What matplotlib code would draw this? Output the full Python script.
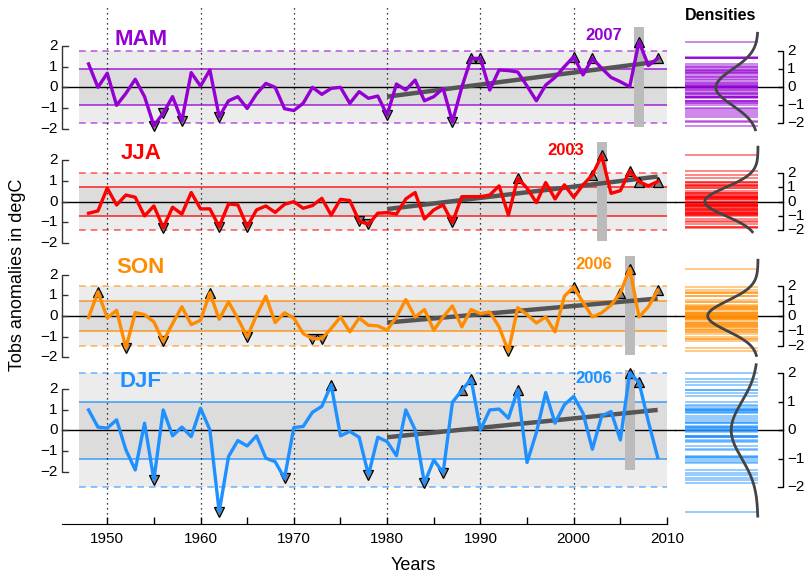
import numpy as np
import matplotlib
matplotlib.use("Agg")
import matplotlib.pyplot as plt

plt.rcParams['font.family'] = ['Liberation Sans', 'DejaVu Sans']

years = np.arange(1948, 2010)

mam = [1.13, 0.0, 0.68, -0.87, -0.29, 0.39, -0.45, -1.85, -1.25, -0.45, -1.61, 0.71,
       0.06, 0.84, -1.42, -0.65, -0.45, -1.02, -0.32, 0.19, 0.0, -1.03,
       -1.12, -0.77, 0.0, -0.34, -0.05, 0.0, -0.77, -0.21, -0.53, -0.42,
       -1.34, 0.16, -0.13, 0.35, -0.65, -0.45, -0.05, -1.66, 0.0, 1.40,
       1.40, -0.13, 0.84, 0.81, 0.74, 0.06, -0.65, 0.11, 0.48, 1.0,
       1.48, 0.6, 1.40, 0.92, 0.48, 0.27, 0.03, 2.21, 1.05, 1.40]
jja = [-0.56, -0.45, 0.65, -0.16, 0.32, 0.21, -0.69, -0.21, -1.26, -0.27, -0.6, 0.44,
       -0.35, -0.35, -1.21, -0.11, -0.16, -1.21, -0.4, -0.21, -0.52, -0.13,
       0.0, -0.32, -0.19, 0.16, -0.65, 0.11, 0.05, -0.94, -1.1, -0.56,
       -0.53, -0.6, 0.13, 0.44, -0.84, -0.4, -0.16, -1.0, 0.24, 0.24,
       0.24, 0.32, 0.76, -0.65, 1.13, 0.65, -0.05, 0.92, 0.13, 0.81,
       0.21, 0.81, 1.29, 2.23, 0.4, 0.53, 1.48, 0.97, 0.76, 0.97]
son = [-0.08, 1.16, -0.1, 0.27, -1.55, 0.16, 0.06, -0.29, -1.23, -0.37, 0.44, -0.42,
       -0.21, 1.11, -0.16, 0.68, -0.13, -1.02, 0.03, 0.95, -0.32, 0.15,
       -0.1, -0.85, -1.1, -1.1, -0.61, -0.05, -0.77, -0.1, -0.45, -0.48,
       -0.69, -0.05, 0.79, -0.06, 0.31, -0.69, -0.05, 0.48, -0.53, 0.31,
       0.11, 0.19, -0.53, -1.71, 0.4, 0.06, -0.34, -0.05, -0.77, 0.95,
       1.4, 0.65, -0.05, 0.15, 0.52, 1.1, 2.29, -0.05, 0.44, 1.24]
djf = [0.98, 0.15, 0.1, 0.5, -0.95, -1.92, 0.34, -2.4, 0.98, -0.27, 0.15, -0.31,
       1.06, 0.02, -3.95, -1.27, -0.5, -0.76, -0.27, -1.35, -1.52, -2.32,
       0.13, 0.18, 0.87, 1.15, 2.19, -0.27, -0.06, -0.34, -2.16, -0.34,
       -0.55, -1.23, 0.98, 0.02, -2.56, -1.44, -2.05, 1.35, 1.92, 2.47,
       0.02, 0.98, 1.02, 0.58, 1.95, -1.56, -0.11, 1.82, 0.34, 1.23,
       1.63, 0.82, -0.92, 0.69, 0.9, -0.47, 2.76, 2.31, 0.42, -1.31]

seasons = ['MAM', 'JJA', 'SON', 'DJF']
series = [mam, jja, son, djf]
colors = ['#9400D3', '#FF0000', '#FF8C00', '#1E90FF']
sd = [0.87, 0.69, 0.73, 1.37]
hot_year = [2007, 2003, 2006, 2006]
trend_1980 = [-0.45, -0.36, -0.32, -0.34]
trend_2009 = [1.24, 1.21, 0.84, 0.98]

offsets = [0.0, -5.52, -11.04, -16.56]

W, H = 811, 575
fig = plt.figure(figsize=(W / 100, H / 100), dpi=100)
ax = fig.add_axes([62 / W, 51 / H, 605 / W, 517 / H])
axd = fig.add_axes([675 / W, 51 / H, 136 / W, 517 / H])

ylim = (offsets[-1] - 4.53, 3.88)
ax.set_xlim(1945.15, 2010.0)
ax.set_ylim(*ylim)
axd.set_xlim(675, 811)
axd.set_ylim(*ylim)
axd.axis('off')

for x in range(1950, 2001, 10):
    ax.axvline(x, color='k', ls=(0, (1, 3)), lw=0.9, zorder=2)

for i, name in enumerate(seasons):
    off = offsets[i]
    s = sd[i]
    c = colors[i]
    v = np.array(series[i])

    # bands
    ax.fill_between([1947, 2010], off - 2 * s, off + 2 * s, color='#ececec', lw=0, zorder=0)
    ax.fill_between([1947, 2010], off - s, off + s, color='#dcdcdc', lw=0, zorder=1)
    ax.hlines([off - 2 * s, off + 2 * s], 1947, 2010, colors=c, linestyles=(0, (4, 3)),
              lw=1.2, alpha=0.6, zorder=1.5)
    ax.hlines([off - s, off + s], 1947, 2010, colors=c, lw=1.1, alpha=0.85, zorder=1.5)
    ax.plot([1945.15, 2010.9], [off, off], color='k', lw=1, zorder=2, clip_on=False)

    # highlighted year and trend
    ax.bar(hot_year[i], 4.8, bottom=off - 1.9, width=1.05, color='#bbbbbb', zorder=3)
    ax.plot([1980, 2009], [off + trend_1980[i], off + trend_2009[i]], color='#555555',
            lw=3.2, zorder=4, solid_capstyle='butt')

    # extremes
    order = np.argsort(v)
    lo, hi = order[:6], order[-6:]
    ax.plot(years[hi], v[hi] + off, '^', ms=7, mfc='#808080', mec='k', mew=0.9, zorder=5)
    ax.plot(years[lo], v[lo] + off, 'v', ms=7, mfc='#808080', mec='k', mew=0.9, zorder=5)
    ax.plot(years, v + off, color=c, lw=2.4, zorder=6, solid_joinstyle='round')

    ax.text(1953.6, off + 2.33, name, color=c, fontsize=16, fontweight='bold',
            ha='center', va='center')
    ax.text(hot_year[i] - 3.8, off + 2.49, str(hot_year[i]), color=c, fontsize=12,
            fontweight='bold', ha='center', va='center')

    # left bracket
    ax.plot([1945.8, 1945.15, 1945.15, 1945.8], [off + 2, off + 2, off - 2, off - 2],
            color='#333333', lw=1, clip_on=False, zorder=7)
    ax.hlines([off - 1, off, off + 1], 1945.15, 1945.8, colors='#333333', lw=1,
              clip_on=False, zorder=7)
    for k in [-2, -1, 0, 1, 2]:
        ax.text(1944.7, off + k, str(k).replace('-', '\u2212'), ha='right', va='center',
                fontsize=11, clip_on=False)

    # densities
    axd.plot([675, 783], [off, off], color='k', lw=1, zorder=0)
    axd.hlines(v + off, 685, 758, colors=c, lw=1.2, alpha=0.55, zorder=1)
    yy = np.linspace(v.min() - 0.2, v.max() + 0.4, 200)
    pdf = np.exp(-yy ** 2 / (2 * s ** 2)) / (s * np.sqrt(2 * np.pi))
    axd.plot(758 - 92 * pdf, yy + off, color='#444444', lw=2, zorder=2)
    axd.plot([778, 783, 783, 778], [off + 2 * s, off + 2 * s, off - 2 * s, off - 2 * s],
             color='k', lw=1)
    axd.hlines([off - s, off, off + s], 778, 783, colors='k', lw=1)
    for k in [-2, -1, 0, 1, 2]:
        axd.text(787, off + k * s, str(k).replace('-', '\u2212'), ha='left', va='center',
                 fontsize=11, clip_on=False)

for sp in ['top', 'right', 'left']:
    ax.spines[sp].set_visible(False)
ax.spines['bottom'].set_bounds(1945.15, 2010)
ax.set_yticks([])
ticks = list(range(1950, 2011, 5))
ax.set_xticks(ticks)
ax.set_xticklabels([str(t) if t % 10 == 0 else '' for t in ticks])
ax.tick_params(axis='x', direction='in', length=5, width=1, labelsize=11, pad=6)

fig.text(413 / W, 1 - 565 / H, 'Years', ha='center', va='center', fontsize=13)
fig.text(18 / W, 1 - 275 / H, 'Tobs anomalies in degC', rotation=90,
         ha='center', va='center', fontsize=13)
fig.text(721 / W, 1 - 15 / H, 'Densities', ha='center', va='center', fontsize=11.5,
         fontweight='bold')

fig.savefig('out.png', dpi=100)
